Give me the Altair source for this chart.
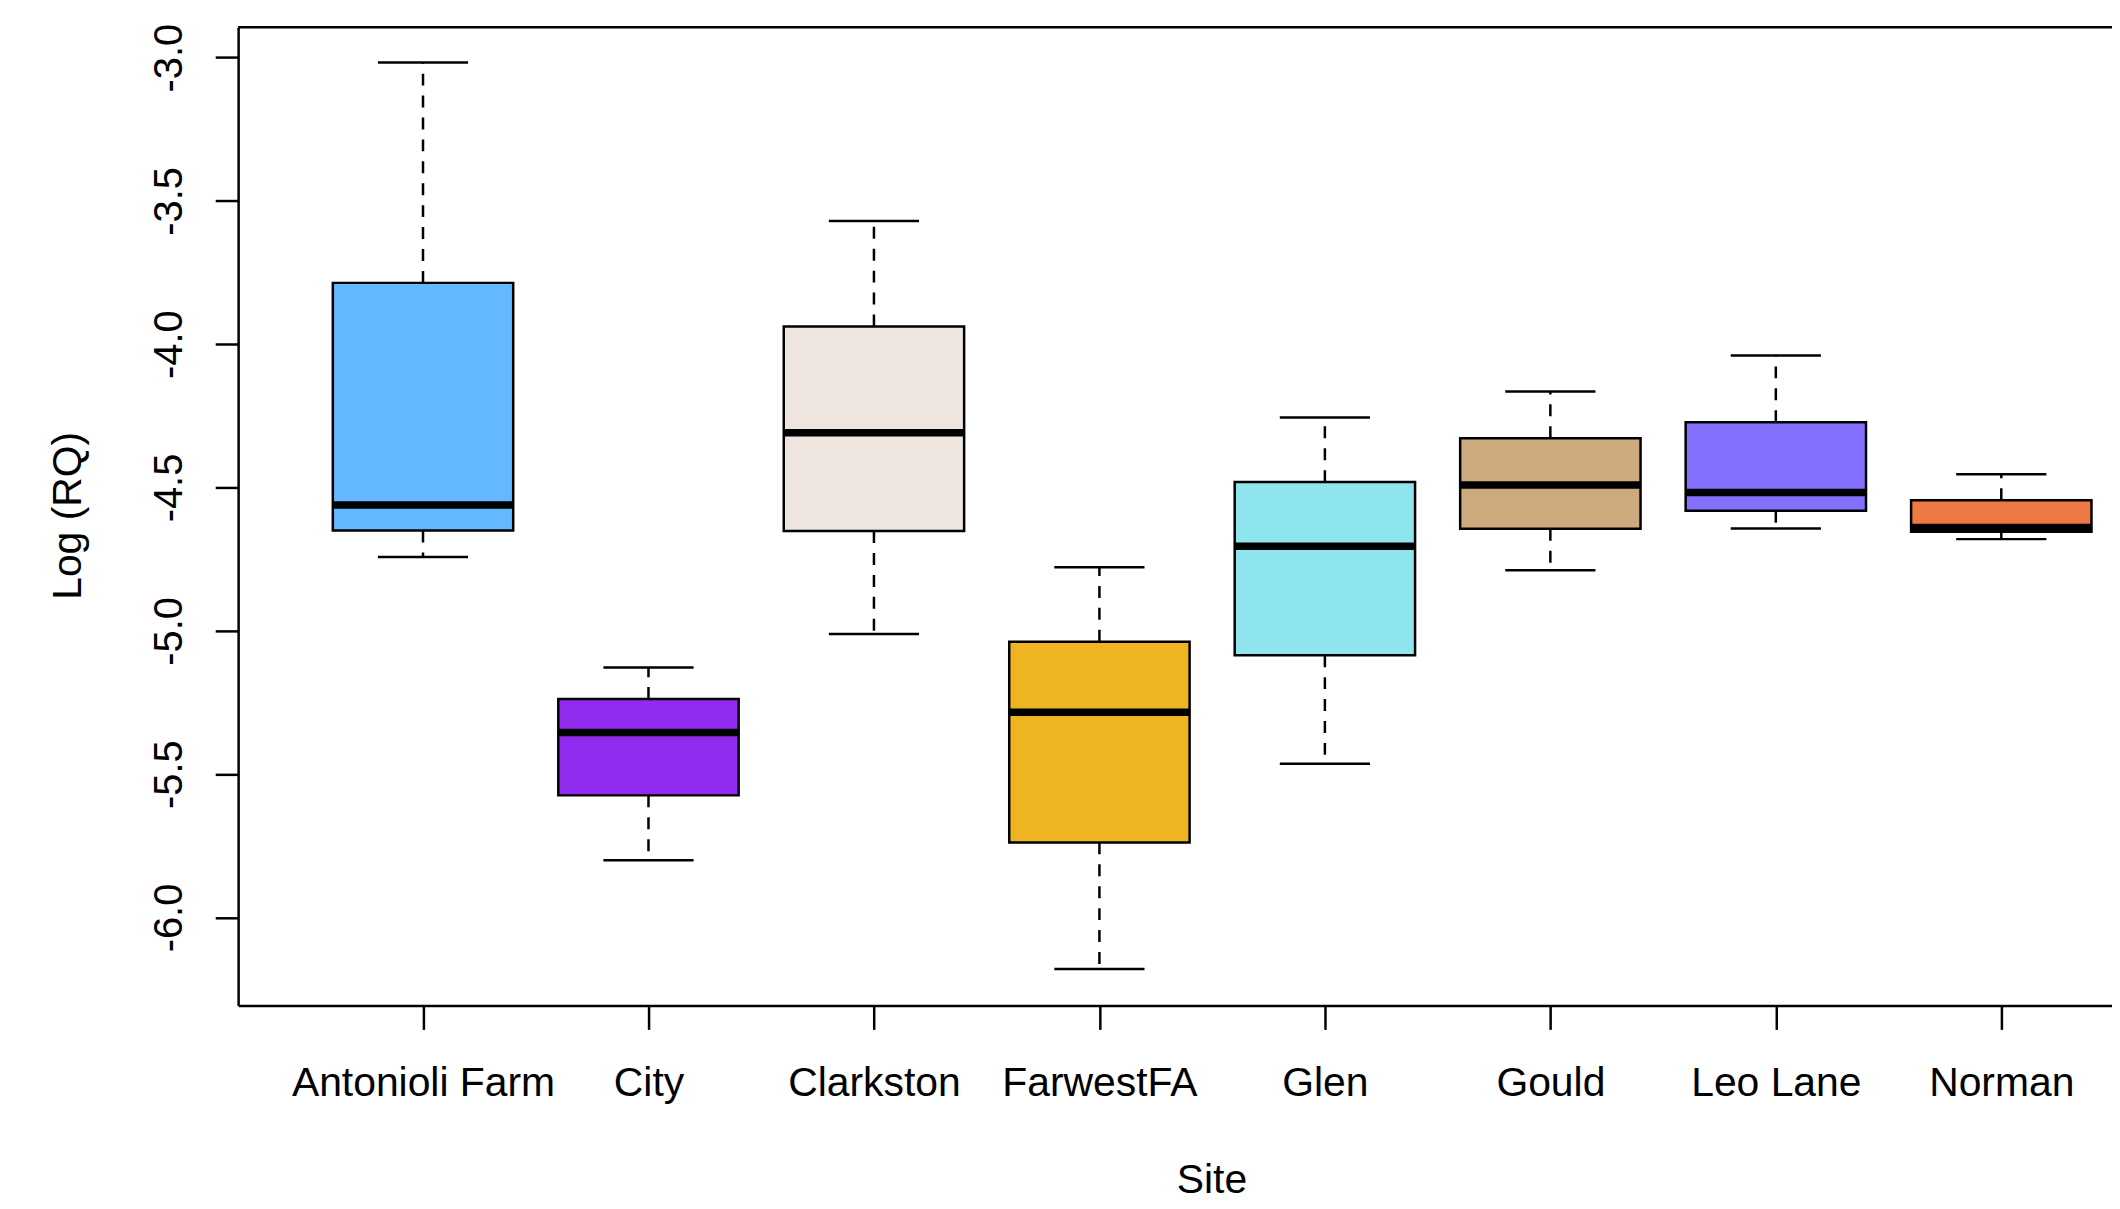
import altair as alt
import pandas as pd

# ---- data ----
sites = ["Antonioli Farm", "City", "Clarkston", "FarwestFA", "Glen", "Gould", "Leo Lane", "Norman"]
fill_colors = ["#63B8FF", "#912CEE", "#EEE5DE", "#EEB422", "#8EE5EE", "#CDAA7D", "#8470FF", "#EE7942"]
whisker_low = [-4.742, -5.800, -5.011, -6.180, -5.464, -4.789, -4.643, -4.680]
q1 = [-4.650, -5.574, -4.652, -5.738, -5.085, -4.644, -4.581, -4.654]
median = [-4.561, -5.355, -4.309, -5.284, -4.705, -4.491, -4.517, -4.639]
q3 = [-3.786, -5.238, -3.938, -5.038, -4.481, -4.328, -4.272, -4.544]
whisker_high = [-3.017, -5.128, -3.570, -4.778, -4.256, -4.165, -4.039, -4.454]
y_ticks = [-3.0, -3.5, -4.0, -4.5, -5.0, -5.5, -6.0]
x_title = "Site"
y_title = "Log (RQ)"

y_min, y_max = -6.307, -2.894
x_min, x_max = 0.18, 8.491

df = pd.DataFrame({
    "site": sites,
    "idx": list(range(1, len(sites) + 1)),
    "whisker_low": whisker_low,
    "q1": q1,
    "median": median,
    "q3": q3,
    "whisker_high": whisker_high,
})

FONT = "Liberation Sans"
LW = 2.5

xs = alt.Scale(domain=[x_min, x_max], nice=False, zero=False)
ys = alt.Scale(domain=[y_min, y_max], nice=False, zero=False)

label_expr_x = "[" + ",".join("'" + s + "'" for s in sites) + "][datum.value - 1]"

x_axis = alt.Axis(
    values=list(range(1, len(sites) + 1)), labelExpr=label_expr_x, title=x_title,
    grid=False, tickSize=24, tickWidth=LW, tickColor="black",
    domainColor="black", domainWidth=LW,
    labelPadding=66, labelBaseline="alphabetic", labelAngle=0, labelAlign="center",
    labelFont=FONT, labelFontSize=41, labelColor="black", labelLimit=0,
    labelFlush=False, labelOverlap=False, labelBound=False,
    titleFont=FONT, titleFontSize=41, titleFontWeight="normal", titleColor="black",
    titleX=977, titleY=188, titleBaseline="alphabetic", titleAlign="center", titleLimit=0,
)
y_axis = alt.Axis(
    values=y_ticks, labelExpr="replace(format(datum.value, '.1f'), '\u2212', '-')",
    title=y_title, grid=False, tickSize=23, tickWidth=LW, tickColor="black",
    domainColor="black", domainWidth=LW,
    labelAngle=270, labelAlign="center", labelBaseline="alphabetic", labelPadding=34,
    labelFont=FONT, labelFontSize=40, labelColor="black", labelLimit=0,
    labelFlush=False, labelOverlap=False, labelBound=False,
    titleFont=FONT, titleFontSize=41, titleFontWeight="normal", titleColor="black",
    titleAngle=270, titleX=-158, titleY=490, titleBaseline="alphabetic", titleAlign="center",
    titleLimit=0,
)

base = alt.Chart(df).transform_calculate(
    left="datum.idx - 0.4", right="datum.idx + 0.4",
    cap_l="datum.idx - 0.2", cap_r="datum.idx + 0.2",
)

whisk_up = base.mark_rule(color="black", strokeWidth=LW, strokeDash=[12, 10]).encode(
    x=alt.X("idx:Q", scale=xs, axis=x_axis),
    y=alt.Y("q3:Q", scale=ys, axis=y_axis),
    y2="whisker_high:Q",
)
whisk_dn = base.mark_rule(color="black", strokeWidth=LW, strokeDash=[12, 10]).encode(
    x=alt.X("idx:Q", scale=xs), y=alt.Y("q1:Q", scale=ys), y2="whisker_low:Q",
)
boxes = base.mark_rect(stroke="black", strokeWidth=LW).encode(
    x=alt.X("left:Q", scale=xs), x2="right:Q",
    y=alt.Y("q1:Q", scale=ys), y2="q3:Q",
    fill=alt.Fill("site:N", scale=alt.Scale(domain=sites, range=fill_colors), legend=None),
)
medians = base.mark_rule(color="black", strokeWidth=7.5).encode(
    x=alt.X("left:Q", scale=xs), x2="right:Q", y=alt.Y("median:Q", scale=ys),
)
caps_hi = base.mark_rule(color="black", strokeWidth=LW).encode(
    x=alt.X("cap_l:Q", scale=xs), x2="cap_r:Q", y=alt.Y("whisker_high:Q", scale=ys),
)
caps_lo = base.mark_rule(color="black", strokeWidth=LW).encode(
    x=alt.X("cap_l:Q", scale=xs), x2="cap_r:Q", y=alt.Y("whisker_low:Q", scale=ys),
)
top_line = alt.Chart(pd.DataFrame({"top": [y_max]})).mark_rule(color="black", strokeWidth=LW).encode(
    y=alt.Y("top:Q", scale=ys),
)

chart = alt.layer(whisk_up, whisk_dn, boxes, medians, caps_hi, caps_lo, top_line).properties(
    width=1881, height=982,
    autosize=alt.AutoSizeParams(type="none"),
    padding={"left": 231, "top": 17, "right": 0, "bottom": 194},
    background="white",
).configure_view(stroke=None)

chart.save("out.html", embed_options={"renderer": "svg", "actions": False})
